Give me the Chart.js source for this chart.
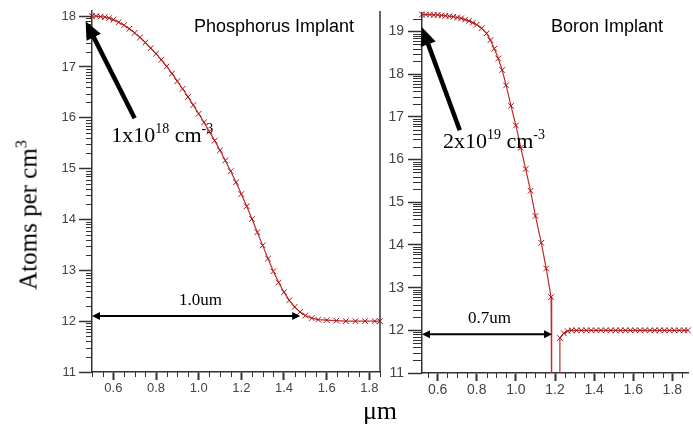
<!DOCTYPE html>
<html>
<head>
<meta charset="utf-8">
<script src="https://cdn.jsdelivr.net/npm/chart.js@4.4.0/dist/chart.umd.min.js"></script>
<style>
  body { margin: 0; background: #fff; }
  #wrap { position: relative; width: 693px; height: 426px; overflow: hidden; background: #fff; }
  #phos { position: absolute; left: 0; top: 0; }
  #boron { position: absolute; left: 385px; top: 0; }
  .ytitle {
    position: absolute; left: 28px; top: 215px;
    transform: translate(-50%, -50%) rotate(-90deg);
    font: 25px "Liberation Serif", "Times New Roman", serif;
    white-space: nowrap; color: #000; line-height: 1;
  }
  .ytitle sup { font-size: 16px; vertical-align: 10px; line-height: 0; }
  .xtitle {
    position: absolute; left: 380px; top: 398px;
    transform: translateX(-50%);
    font: 26px "Liberation Serif", "Times New Roman", serif;
    color: #000; line-height: 1;
  }
</style>
</head>
<body>
<div id="wrap">
  <canvas id="phos" width="385" height="426"></canvas>
  <canvas id="boron" width="308" height="426"></canvas>
  <div class="ytitle">Atoms per cm<sup>3</sup></div>
  <div class="xtitle">μm</div>
</div>
<script>
// Phosphorus implant profile (log10 atoms/cm3 vs depth in um)
const phosX = [0.500, 0.520, 0.540, 0.560, 0.580, 0.600, 0.625, 0.650, 0.675, 0.700,
               0.725, 0.750, 0.775, 0.800, 0.825, 0.850, 0.875, 0.900, 0.925, 0.950,
               0.975, 1.000, 1.025, 1.050, 1.075, 1.100, 1.125, 1.150, 1.175, 1.200,
               1.225, 1.250, 1.275, 1.300, 1.325, 1.350, 1.375, 1.400, 1.425, 1.450,
               1.475, 1.500, 1.530, 1.560, 1.600, 1.645, 1.690, 1.735, 1.780, 1.825, 1.850];
const phosY = [18.00, 18.00, 17.99, 17.98, 17.96, 17.93, 17.88, 17.82, 17.75, 17.67,
               17.58, 17.48, 17.37, 17.26, 17.14, 17.01, 16.87, 16.72, 16.57, 16.41,
               16.25, 16.08, 15.91, 15.73, 15.55, 15.36, 15.16, 14.95, 14.73, 14.50,
               14.26, 14.01, 13.75, 13.49, 13.23, 12.98, 12.76, 12.57, 12.41, 12.28,
               12.18, 12.11, 12.06, 12.03, 12.02, 12.01, 12.00, 12.00, 12.00, 12.00, 12.00];

// Boron implant profile; the junction dips below the axis (drawn as 10)
const boronX = [0.520, 0.540, 0.560, 0.580, 0.600, 0.620, 0.640, 0.660, 0.680, 0.700,
                0.720, 0.740, 0.760, 0.780, 0.800, 0.825, 0.850, 0.870, 0.890, 0.910,
                0.930, 0.950, 0.975, 1.000, 1.025, 1.050, 1.075, 1.100, 1.130, 1.155,
                1.180, 1.183, 1.224, 1.225, 1.245, 1.265, 1.285, 1.310, 1.335, 1.360,
                1.385, 1.410, 1.435, 1.460, 1.485, 1.510, 1.535, 1.560, 1.585, 1.610,
                1.635, 1.660, 1.685, 1.710, 1.735, 1.760, 1.785, 1.810, 1.835, 1.860, 1.880];
const boronY = [19.40, 19.40, 19.40, 19.39, 19.39, 19.38, 19.37, 19.36, 19.35, 19.33,
                19.31, 19.28, 19.25, 19.21, 19.16, 19.08, 18.96, 18.80, 18.60, 18.37,
                18.10, 17.74, 17.26, 16.80, 16.28, 15.78, 15.27, 14.68, 14.05, 13.45,
                12.78, 10.00, 10.00, 11.82, 11.93, 11.98, 12.00, 12.00, 12.00, 12.00,
                12.00, 12.00, 12.00, 12.00, 12.00, 12.00, 12.00, 12.00, 12.00, 12.00,
                12.00, 12.00, 12.00, 12.00, 12.00, 12.00, 12.00, 12.00, 12.00, 12.00, 12.00];

const xTicks = [0.6, 0.8, 1.0, 1.2, 1.4, 1.6, 1.8];
const phosYTicks = [11, 12, 13, 14, 15, 16, 17, 18];
const boronYTicks = [11, 12, 13, 14, 15, 16, 17, 18, 19];

Chart.defaults.font.family = '"Liberation Sans", Arial, sans-serif';
Chart.defaults.color = '#333';

/* ------------------ MINOR TICKS (log style on y, 0.05 on x) ------------------ */
const minorTicks = {
  id: 'minorTicks',
  afterDraw(chart, args, opts) {
    const { ctx, chartArea: a, scales: { x, y } } = chart;
    ctx.save();
    ctx.strokeStyle = '#333';
    ctx.lineWidth = 1;
    ctx.beginPath();
    for (let n = Math.floor(y.min); n <= Math.ceil(y.max); n++) {
      for (let k = 2; k <= 9; k++) {
        const v = n + Math.log10(k);
        if (v < y.min || v > y.max) continue;
        const py = Math.round(y.getPixelForValue(v)) + 0.5;
        ctx.moveTo(a.left - opts.yLen, py);
        ctx.lineTo(a.left, py);
      }
    }
    for (let i = Math.ceil(x.min / 0.05 - 1e-6); i * 0.05 <= x.max + 1e-6; i++) {
      if (i % 4 === 0) continue;
      const px = Math.round(x.getPixelForValue(i * 0.05)) + 0.5;
      ctx.moveTo(px, a.bottom);
      ctx.lineTo(px, a.bottom + opts.xLen);
    }
    ctx.stroke();
    ctx.restore();
  }
};

/* ------------------ NOTES: title, arrow, label, span ------------------ */
function drawParts(ctx, parts, x, y) {
  let cx = x;
  parts.forEach(([text, sup]) => {
    ctx.font = sup ? '14px "Liberation Serif", serif' : '22px "Liberation Serif", serif';
    ctx.fillText(text, cx, sup ? y - 9 : y);
    cx += ctx.measureText(text).width;
  });
}

function head(ctx, tx, ty, ux, uy, len, half) {
  const bx = tx - ux * len, by = ty - uy * len;
  ctx.beginPath();
  ctx.moveTo(tx, ty);
  ctx.lineTo(bx - uy * half, by + ux * half);
  ctx.lineTo(bx + uy * half, by - ux * half);
  ctx.closePath();
  ctx.fill();
}

const notes = {
  id: 'notes',
  afterDraw(chart, args, o) {
    const { ctx, chartArea: a, scales: { x, y } } = chart;
    ctx.save();
    ctx.fillStyle = '#000';
    ctx.strokeStyle = '#000';

    // right border of the panel
    if (o.rightBorder) {
      ctx.strokeStyle = '#333';
      ctx.lineWidth = 1.5;
      ctx.beginPath();
      ctx.moveTo(a.right, a.top);
      ctx.lineTo(a.right, a.bottom);
      ctx.stroke();
      ctx.strokeStyle = '#000';
    }

    // panel title
    ctx.font = '18px "Liberation Sans", Arial, sans-serif';
    ctx.textAlign = 'right';
    ctx.textBaseline = 'alphabetic';
    ctx.fillText(o.title, a.right - o.titleDx, a.top + o.titleDy);
    ctx.textAlign = 'left';

    // big arrow to the peak
    const tx = x.getPixelForValue(o.arrow[2]), ty = y.getPixelForValue(o.arrow[3]);
    const sx = x.getPixelForValue(o.arrow[0]), sy = y.getPixelForValue(o.arrow[1]);
    const d = Math.hypot(tx - sx, ty - sy), ux = (tx - sx) / d, uy = (ty - sy) / d;
    ctx.lineWidth = 4.5;
    ctx.beginPath();
    ctx.moveTo(sx, sy);
    ctx.lineTo(tx - ux * 12, ty - uy * 12);
    ctx.stroke();
    head(ctx, tx, ty, ux, uy, 18, 8);

    // peak concentration label
    drawParts(ctx, o.label, x.getPixelForValue(o.labelAt[0]), y.getPixelForValue(o.labelAt[1]));

    // junction depth span
    const py = y.getPixelForValue(o.span[2]);
    const x0 = x.getPixelForValue(o.span[0]), x1 = x.getPixelForValue(o.span[1]);
    ctx.lineWidth = 2;
    ctx.beginPath();
    ctx.moveTo(x0 + 5, py);
    ctx.lineTo(x1 - 5, py);
    ctx.stroke();
    head(ctx, x0, py, -1, 0, 8, 4);
    head(ctx, x1, py, 1, 0, 8, 4);
    ctx.font = '17px "Liberation Serif", serif';
    ctx.textAlign = 'center';
    ctx.fillText(o.spanText, x.getPixelForValue(o.spanTextAt[0]), y.getPixelForValue(o.spanTextAt[1]));
    ctx.restore();
  }
};

function makeChart(id, xs, ys, cfg) {
  return new Chart(document.getElementById(id), {
    type: 'line',
    data: {
      datasets: [{
        data: xs.map((v, i) => ({ x: v, y: ys[i] })),
        borderColor: '#c42a2a',
        borderWidth: 1.2,
        tension: 0,
        pointStyle: 'crossRot',
        pointRadius: c => (c.raw && c.raw.y < cfg.yMin ? 0 : 4),
        pointBorderColor: '#a81414',
        pointBorderWidth: 1,
        clip: { left: 6, top: 6, right: 6, bottom: 0 }
      }]
    },
    options: {
      responsive: false,
      devicePixelRatio: 1,
      animation: false,
      layout: { padding: { left: 0, top: cfg.top, right: cfg.padRight, bottom: 0 } },
      plugins: {
        legend: { display: false },
        tooltip: { enabled: false },
        minorTicks: { yLen: cfg.minorYLen, xLen: 5 },
        notes: cfg.notes
      },
      scales: {
        x: {
          type: 'linear',
          min: cfg.xMin,
          max: cfg.xMax,
          afterBuildTicks: s => { s.ticks = xTicks.map(v => ({ value: v })); },
          afterFit: s => { s.height = cfg.xHeight; },
          border: { color: '#333', width: 1.5 },
          grid: { drawOnChartArea: false, tickLength: 8, tickWidth: 2, tickColor: '#333' },
          ticks: {
            padding: 1,
            font: { size: cfg.tickSize },
            color: '#444',
            maxRotation: 0,
            callback: v => v.toFixed(1)
          }
        },
        y: {
          min: cfg.yMin,
          max: cfg.yMax,
          afterBuildTicks: s => { s.ticks = cfg.yTicks.map(v => ({ value: v })); },
          afterFit: s => { s.width = cfg.yWidth; },
          border: { color: '#333', width: 1.5 },
          grid: { drawOnChartArea: false, tickLength: cfg.majorYLen, tickWidth: 1.5, tickColor: '#333' },
          ticks: { padding: cfg.yPad, font: { size: cfg.tickSize }, color: '#444' }
        }
      }
    },
    plugins: [minorTicks, notes]
  });
}

makeChart('phos', phosX, phosY, {
  xMin: 0.5, xMax: 1.85, yMin: 11, yMax: 18.1, yTicks: phosYTicks,
  top: 11, padRight: 2, xHeight: 54, yWidth: 92,
  majorYLen: 13, minorYLen: 6, yPad: 3, tickSize: 13,
  notes: {
    rightBorder: true,
    title: 'Phosphorus Implant', titleDx: 26, titleDy: 21,
    arrow: [0.70, 15.99, 0.47, 17.90],
    label: [['1x10', false], ['18', true], [' cm', false], ['-3', true]],
    labelAt: [0.59, 15.52],
    span: [0.5, 1.476, 12.1],
    spanText: '1.0um', spanTextAt: [1.008, 12.31]
  }
});

makeChart('boron', boronX, boronY, {
  xMin: 0.52, xMax: 1.88, yMin: 11, yMax: 19.45, yTicks: boronYTicks,
  top: 12, padRight: 3, xHeight: 53, yWidth: 37,
  majorYLen: 14, minorYLen: 9, yPad: 4, tickSize: 14,
  notes: {
    rightBorder: false,
    title: 'Boron Implant', titleDx: 25, titleDy: 20,
    arrow: [0.713, 16.69, 0.52, 19.10],
    label: [['2x10', false], ['19', true], [' cm', false], ['-3', true]],
    labelAt: [0.627, 16.27],
    span: [0.52, 1.185, 11.91],
    spanText: '0.7um', spanTextAt: [0.865, 12.17]
  }
});
</script>
</body>
</html>
